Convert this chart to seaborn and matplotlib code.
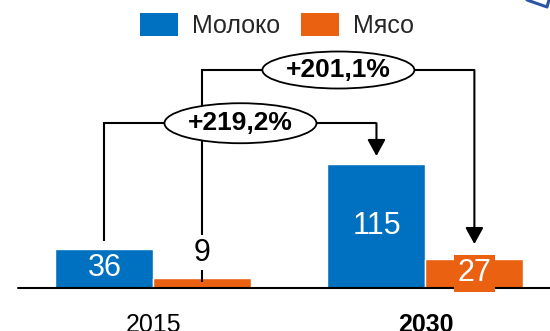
import matplotlib
matplotlib.use("Agg")
import matplotlib.pyplot as plt
import seaborn as sns
import pandas as pd
from matplotlib.patches import Ellipse, Patch
from matplotlib.lines import Line2D

# Production volumes
years = ["2015", "2030"]
products = ["Молоко", "Мясо"]
milk = [36, 115]
meat = [9, 27]
growth_labels = ["+219,2%", "+201,1%"]
colors = ["#0070C0", "#EB6112"]

df = pd.DataFrame({
    "year": years * 2,
    "product": [products[0]] * len(years) + [products[1]] * len(years),
    "value": milk + meat,
})

sns.set_theme(style="white")
plt.rcParams["font.family"] = ["Liberation Sans", "DejaVu Sans"]

W, H = 550, 331
fig = plt.figure(figsize=(W / 100, H / 100), dpi=100)
base_px = 287.7          # baseline position from the top edge, px
px_per_unit = 1.075      # vertical scale
ax = fig.add_axes([0, (H - base_px) / H, 1, base_px / H])

sns.barplot(data=df, x="year", y="value", hue="product", hue_order=products,
            palette=colors, width=0.72, saturation=1, legend=False, ax=ax,
            zorder=2)

ax.set_xlim(-0.564, 1.458)
ax.set_ylim(0, base_px / px_per_unit)
sns.despine(ax=ax, left=True, bottom=True, top=True, right=True)
ax.set_yticks([])
ax.set_xlabel("")
ax.set_ylabel("")
ax.tick_params(axis="x", length=0, pad=18.5, labelsize=18, colors="black")
ax.get_xticklabels()[1].set_fontweight("bold")

# baseline
ax.axhline(0, xmin=18 / W, xmax=1, color="black", lw=1.5, zorder=3, clip_on=False)

milk_bars = ax.containers[0]
meat_bars = ax.containers[1]

def center(bar):
    return bar.get_x() + bar.get_width() / 2

# value labels
for bar, v in zip(milk_bars, milk):
    ax.text(center(bar), v / 2, str(v), ha="center", va="center",
            color="white", fontsize=22, zorder=6)

b9 = meat_bars[0]
ax.text(center(b9), meat[0] + 23.7, str(meat[0]), ha="center", va="center",
        color="black", fontsize=22, zorder=6,
        bbox=dict(boxstyle="square,pad=0.08", fc="white", ec="none"))
b27 = meat_bars[1]
ax.text(center(b27), meat[1] / 2, str(meat[1]), ha="center", va="center",
        color="white", fontsize=22, zorder=6,
        bbox=dict(boxstyle="square,pad=0.12", fc=colors[1], ec="none"))

# growth brackets
def bracket(x0, y0, x1, y1, yh, label, eh):
    ax.plot([x0, x0, x1], [y0, yh, yh], color="black", lw=1.5, zorder=4,
            solid_capstyle="butt", solid_joinstyle="miter")
    ax.annotate("", xy=(x1, y1), xytext=(x1, yh),
                arrowprops=dict(arrowstyle="-|>,head_length=1.0,head_width=0.55",
                                mutation_scale=10, lw=1.5, color="black",
                                shrinkA=0, shrinkB=0), zorder=4)
    xm = (x0 + x1) / 2
    ax.add_patch(Ellipse((xm, yh), width=152 / 272, height=eh / px_per_unit,
                         fc="white", ec="black", lw=1.3, zorder=5))
    ax.text(xm, yh, label, ha="center", va="center", fontsize=19,
            fontweight="bold", color="black", zorder=6)

bracket(center(milk_bars[0]), milk[0] + 7.0, center(milk_bars[1]), milk[1] + 7.5,
        153, growth_labels[0], 40)
bracket(center(meat_bars[0]), meat[0] - 4.0, center(meat_bars[1]), meat[1] + 13.6,
        202.5, growth_labels[1], 37)

# legend
handles = [Patch(facecolor=c, edgecolor="none") for c in colors]
fig.legend(handles, products, loc="upper center", bbox_to_anchor=(0.503, 1.0 + 5 / H),
           ncol=2, frameon=False, fontsize=18, handlelength=1.52,
           handleheight=1.08, handletextpad=0.56, columnspacing=0.84,
           borderpad=0.2)

# decorative corner shape
fig.add_artist(Line2D([527 / W, 547 / W, 549 / W], [1, 1 - 7 / H, 1],
                      transform=fig.transFigure, color="#2B55A6", lw=2.2))

fig.savefig("out.png", dpi=100)
